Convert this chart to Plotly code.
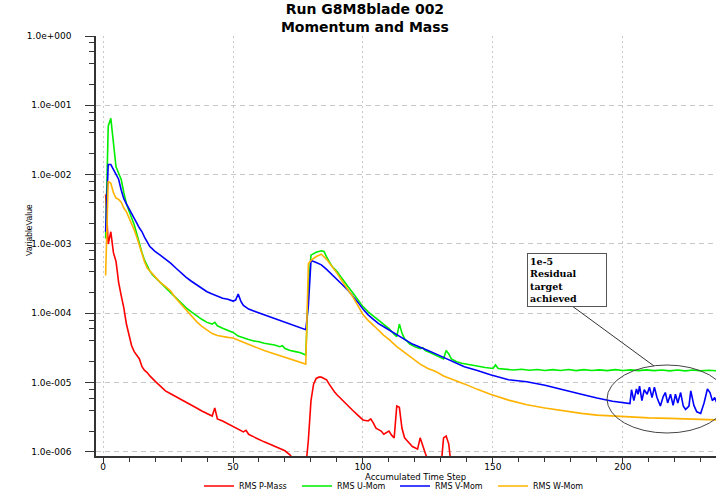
import plotly.graph_objects as go

# ---------------- data ----------------
p_steps = [1, 2, 3, 4, 5, 6, 7, 8, 9, 10, 11, 12, 13, 14, 15, 16, 17, 18, 20, 22, 24, 26, 28, 30,
           32, 34, 36, 38, 40, 42, 43, 44, 46, 48, 50, 52, 54, 55, 56, 58, 60, 62, 64, 66, 68, 70,
           72, 74, 76, 78, 79, 80, 81, 82, 83, 84, 85, 86, 87, 88, 89, 90, 92, 94, 96, 98, 100,
           102, 103, 104, 105, 106, 107, 108, 109, 110, 111, 112, 113, 114, 115, 116, 117, 118,
           119, 120, 121, 122, 123, 124, 126, 128, 130, 131, 132, 133, 134, 136]
p_mass = [5.2e-3, 1.0e-3, 1.5e-3, 7.5e-4, 5.6e-4, 2.8e-4, 1.8e-4, 1.2e-4, 7.0e-5, 4.8e-5, 3.4e-5,
          2.8e-5, 2.5e-5, 2.2e-5, 1.7e-5, 1.5e-5, 1.4e-5, 1.25e-5, 1.05e-5, 9.0e-6, 7.6e-6, 6.9e-6,
          6.3e-6, 5.8e-6, 5.3e-6, 4.8e-6, 4.3e-6, 3.9e-6, 3.6e-6, 3.3e-6, 4.3e-6, 3.0e-6, 2.8e-6,
          2.55e-6, 2.35e-6, 2.15e-6, 1.95e-6, 2.05e-6, 1.8e-6, 1.65e-6, 1.5e-6, 1.4e-6, 1.3e-6,
          1.2e-6, 1.12e-6, 1.04e-6, 9.0e-7, 7.0e-7, 6.0e-7, 6.0e-7, 1.5e-6, 5.5e-6, 9.5e-6,
          1.15e-5, 1.2e-5, 1.2e-5, 1.15e-5, 1.1e-5, 9.5e-6, 8.3e-6, 7.4e-6, 6.7e-6, 5.6e-6, 4.8e-6,
          4.0e-6, 3.4e-6, 2.9e-6, 2.8e-6, 3.0e-6, 2.6e-6, 2.2e-6, 2.1e-6, 2.0e-6, 1.8e-6, 1.9e-6,
          2.0e-6, 1.75e-6, 1.6e-6, 4.6e-6, 4.4e-6, 2.2e-6, 1.6e-6, 1.45e-6, 1.3e-6, 1.2e-6,
          1.15e-6, 1.1e-6, 1.6e-6, 1.2e-6, 9.5e-7, 6.0e-7, 5.0e-7, 6.0e-7, 1.6e-6, 1.7e-6, 1.3e-6,
          6.0e-7, 4.0e-7]

u_steps = [1, 2, 3, 4, 5, 6, 7, 8, 9, 10, 11, 12, 13, 14, 15, 16, 17, 18, 19, 20, 22, 24, 26, 28,
           30, 32, 34, 36, 38, 40, 42, 43, 44, 46, 48, 50, 52, 54, 56, 58, 60, 62, 64, 66, 68, 69,
           70, 72, 74, 76, 78, 79, 80, 82, 84, 85, 86, 88, 90, 92, 94, 96, 98, 100, 102, 104, 106,
           108, 110, 112, 113, 114, 115, 116, 118, 120, 122, 123, 124, 126, 128, 130, 131, 132,
           133, 134, 136, 138, 141, 144, 147, 150, 151, 152, 155, 158, 161, 164, 167, 170, 173,
           176, 179, 182, 185, 188, 191, 194, 197, 200, 203, 206, 209, 212, 215, 218, 221, 224,
           227, 230, 233, 236]
u_mom = [1.2e-3, 5.0e-2, 6.5e-2, 2.6e-2, 1.3e-2, 1.05e-2, 8.5e-3, 5.5e-3, 3.8e-3, 3.0e-3, 2.4e-3,
         1.9e-3, 1.4e-3, 1.0e-3, 7.5e-4, 5.8e-4, 4.8e-4, 4.1e-4, 3.6e-4, 3.3e-4, 2.8e-4, 2.4e-4,
         2.0e-4, 1.65e-4, 1.4e-4, 1.2e-4, 1.05e-4, 9.2e-5, 8.2e-5, 7.4e-5, 7.0e-5, 7.4e-5, 6.6e-5,
         6.1e-5, 5.7e-5, 5.3e-5, 4.7e-5, 4.5e-5, 4.2e-5, 4.0e-5, 3.9e-5, 3.7e-5, 3.6e-5, 3.5e-5,
         3.3e-5, 3.4e-5, 3.1e-5, 2.9e-5, 2.8e-5, 2.7e-5, 2.5e-5, 2.3e-4, 6.9e-4, 7.6e-4, 8.0e-4,
         7.8e-4, 6.5e-4, 4.8e-4, 4.0e-4, 3.1e-4, 2.5e-4, 2.0e-4, 1.55e-4, 1.25e-4, 1.05e-4,
         9.2e-5, 8.0e-5, 7.0e-5, 6.0e-5, 5.0e-5, 4.6e-5, 7.0e-5, 5.2e-5, 4.3e-5, 3.6e-5, 3.3e-5,
         3.1e-5, 3.2e-5, 2.9e-5, 2.7e-5, 2.5e-5, 2.3e-5, 2.2e-5, 2.9e-5, 2.6e-5, 2.2e-5, 2.0e-5,
         1.9e-5, 1.8e-5, 1.7e-5, 1.65e-5, 1.6e-5, 1.8e-5, 1.6e-5, 1.55e-5, 1.52e-5, 1.56e-5,
         1.51e-5, 1.55e-5, 1.5e-5, 1.54e-5, 1.5e-5, 1.55e-5, 1.49e-5, 1.54e-5, 1.5e-5, 1.53e-5,
         1.49e-5, 1.54e-5, 1.5e-5, 1.53e-5, 1.49e-5, 1.53e-5, 1.49e-5, 1.52e-5, 1.48e-5, 1.52e-5,
         1.48e-5, 1.52e-5, 1.48e-5, 1.51e-5, 1.48e-5]

v_steps = [1, 2, 3, 4, 5, 6, 7, 8, 9, 10, 11, 12, 13, 14, 15, 16, 17, 18, 19, 20, 22, 24, 26, 28,
           30, 32, 34, 36, 38, 40, 42, 44, 46, 48, 50, 51, 52, 53, 54, 56, 58, 60, 63, 66, 69, 72,
           75, 78, 79, 80, 82, 84, 86, 88, 90, 92, 94, 96, 98, 100, 102, 104, 106, 108, 110, 113,
           116, 119, 122, 125, 128, 131, 135, 139, 144, 149, 156, 163, 170, 177, 184, 190, 196,
           202.7, 203.3, 204.2, 205.2, 205.8, 206.4, 207.3, 208.2, 209.3, 210.2, 211.2, 212.1,
           213.1, 214.4, 215.5, 216.3, 217.2, 218.3, 219.3, 220.2, 221.1, 222.2, 223.2, 224.1,
           225.4, 226.1, 227.3, 228.4, 229.9, 231.2, 232.5, 233.5, 234.4, 235.3, 236]
v_mom = [1.5e-3, 1.4e-2, 1.4e-2, 1.2e-2, 1.0e-2, 8.6e-3, 6.0e-3, 4.5e-3, 3.8e-3, 3.2e-3, 2.7e-3,
         2.3e-3, 2.0e-3, 1.7e-3, 1.5e-3, 1.25e-3, 1.05e-3, 9.2e-4, 8.5e-4, 7.8e-4, 6.9e-4, 6.1e-4,
         5.3e-4, 4.5e-4, 3.8e-4, 3.3e-4, 2.9e-4, 2.6e-4, 2.3e-4, 2.05e-4, 1.9e-4, 1.75e-4,
         1.65e-4, 1.6e-4, 1.5e-4, 1.55e-4, 1.9e-4, 1.5e-4, 1.3e-4, 1.15e-4, 1.08e-4, 1.0e-4,
         9.3e-5, 8.5e-5, 7.7e-5, 6.9e-5, 6.3e-5, 5.8e-5, 1.3e-4, 5.8e-4, 5.4e-4, 5.0e-4, 4.3e-4,
         3.6e-4, 3.1e-4, 2.6e-4, 2.2e-4, 1.8e-4, 1.45e-4, 1.15e-4, 9.5e-5, 8.2e-5, 7.1e-5,
         6.4e-5, 5.8e-5, 5.0e-5, 4.2e-5, 3.6e-5, 3.2e-5, 2.9e-5, 2.6e-5, 2.3e-5, 2.0e-5, 1.7e-5,
         1.5e-5, 1.3e-5, 1.1e-5, 1.03e-5, 9.2e-6, 8.0e-6, 6.8e-6, 6.0e-6, 5.4e-6, 5.0e-6, 7.9e-6,
         5.5e-6, 8.1e-6, 6.8e-6, 8.9e-6, 5.5e-6, 7.9e-6, 6.8e-6, 8.6e-6, 6.1e-6, 8.6e-6, 6.1e-6,
         4.6e-6, 6.3e-6, 7.2e-6, 5.1e-6, 6.8e-6, 4.7e-6, 6.8e-6, 5.1e-6, 7.2e-6, 4.6e-6, 4.1e-6,
         4.6e-6, 7.6e-6, 4.7e-6, 3.8e-6, 3.6e-6, 5.1e-6, 8.1e-6, 7.2e-6, 5.5e-6, 6.1e-6, 5.2e-6]

w_steps = [1, 2, 3, 4, 5, 6, 7, 8, 9, 10, 11, 12, 13, 14, 15, 16, 17, 18, 19, 20, 22, 24, 26, 28,
           30, 32, 34, 36, 38, 40, 42, 44, 46, 48, 50, 52, 54, 56, 58, 60, 62, 64, 66, 68, 70, 72,
           74, 76, 78, 79, 80, 82, 84, 86, 88, 90, 92, 94, 96, 98, 100, 102, 104, 106, 108, 110,
           113, 116, 119, 122, 125, 128, 131, 135, 139, 144, 149, 156, 163, 170, 177, 184, 190,
           196, 202, 210, 218, 226, 236]
w_mom = [3.5e-4, 8.0e-3, 7.5e-3, 5.5e-3, 4.6e-3, 4.4e-3, 4.0e-3, 3.3e-3, 2.9e-3, 2.4e-3, 2.0e-3,
         1.6e-3, 1.25e-3, 9.5e-4, 7.0e-4, 5.5e-4, 4.5e-4, 4.1e-4, 3.6e-4, 3.3e-4, 2.8e-4, 2.45e-4,
         2.1e-4, 1.65e-4, 1.35e-4, 1.1e-4, 9.0e-5, 7.6e-5, 6.5e-5, 5.7e-5, 5.1e-5, 4.8e-5, 4.6e-5,
         4.5e-5, 4.4e-5, 4.1e-5, 3.8e-5, 3.5e-5, 3.3e-5, 3.1e-5, 2.9e-5, 2.75e-5, 2.6e-5, 2.45e-5,
         2.35e-5, 2.2e-5, 2.1e-5, 1.95e-5, 1.85e-5, 5.2e-4, 5.8e-4, 6.6e-4, 7.1e-4, 6.0e-4,
         4.8e-4, 3.8e-4, 2.9e-4, 2.3e-4, 1.75e-4, 1.3e-4, 9.6e-5, 7.9e-5, 6.6e-5, 5.7e-5, 4.8e-5,
         4.2e-5, 3.3e-5, 2.7e-5, 2.2e-5, 1.85e-5, 1.6e-5, 1.45e-5, 1.25e-5, 1.1e-5, 9.6e-6,
         8.0e-6, 6.8e-6, 5.6e-6, 4.8e-6, 4.3e-6, 3.9e-6, 3.6e-6, 3.4e-6, 3.3e-6, 3.2e-6, 3.1e-6,
         3.05e-6, 3.0e-6, 2.9e-6]

series_names = ["RMS P-Mass", "RMS U-Mom", "RMS V-Mom", "RMS W-Mom"]
y_tick_vals = [1e0, 1e-1, 1e-2, 1e-3, 1e-4, 1e-5, 1e-6]
y_tick_text = ["1.0e+000", "1.0e-001", "1.0e-002", "1.0e-003", "1.0e-004", "1.0e-005", "1.0e-006"]
x_tick_vals = [0, 50, 100, 150, 200]
title_lines = ["Run G8M8blade 002", "Momentum and Mass"]
note_lines = ["1e-5", "Residual", "target", "achieved"]

# ---------------- figure ----------------
colors = ["#ff0000", "#00ee00", "#0000ff", "#ffb300"]
fig = go.Figure()
for name, xs, ys, c in zip(series_names,
                           [p_steps, u_steps, v_steps, w_steps],
                           [p_mass, u_mom, v_mom, w_mom], colors):
    fig.add_trace(go.Scatter(x=xs, y=ys, mode="lines", name=name,
                             line=dict(color=c, width=1.6)))

y_minor = [m * 10.0 ** k for k in range(-6, 0) for m in (2, 4, 6, 8)]

L, R, T, B = 96, 0, 36, 35
W, H = 716, 491
pw, ph = W - L - R, H - T - B


def px(xp):
    return (xp - L) / pw


def py(yp):
    return (H - B - yp) / ph


axis_font = dict(family="DejaVu Sans", size=9, color="#000000")

fig.update_layout(
    width=W, height=H,
    margin=dict(l=L, r=R, t=T, b=B, autoexpand=False),
    paper_bgcolor="white", plot_bgcolor="white",
    title=dict(text="<b>" + "<br>".join(title_lines) + "</b>",
               font=dict(family="DejaVu Sans", size=14, color="#000000"),
               x=px(412), xanchor="center", y=0.972, yanchor="top", yref="container"),
    showlegend=True,
    legend=dict(orientation="h", x=px(199), xanchor="left", y=py(486), yanchor="middle",
                font=dict(family="DejaVu Sans", size=8, color="#000000"),
                entrywidth=53, entrywidthmode="pixels", itemwidth=30,
                bgcolor="rgba(0,0,0,0)", tracegroupgap=0),
    xaxis=dict(range=[-2.7, 235.8], tickmode="array", tickvals=x_tick_vals,
               ticks="outside", ticklen=5, tickcolor="#333333", tickwidth=1,
               showline=True, linecolor="#333333", linewidth=1.5,
               showgrid=True, gridcolor="#c8c8c8", griddash="2px,3px", gridwidth=1,
               zeroline=False, tickfont=axis_font, ticklabelstandoff=-4,
               minor=dict(dtick=10, tick0=0, ticks="outside", ticklen=4, tickcolor="#333333",
                          showgrid=False)),
    yaxis=dict(type="log", range=[-6.058, 0.0], tickmode="array", tickvals=y_tick_vals,
               ticktext=y_tick_text, ticks="outside", ticklen=9, tickcolor="#333333",
               tickwidth=1, showline=True, linecolor="#333333", linewidth=1.5,
               showgrid=True, gridcolor="#c8c8c8", griddash="5px,4px", gridwidth=1,
               zeroline=False, tickfont=axis_font, ticklabelstandoff=12,
               minor=dict(tickvals=y_minor, ticks="outside", ticklen=5, tickcolor="#333333",
                          showgrid=False)),
)

# axis titles placed like the reference
fig.add_annotation(text="VariableValue", textangle=-90, xref="paper", yref="paper",
                   x=px(22), y=py(230), showarrow=False,
                   font=dict(family="Liberation Sans Narrow, Liberation Sans", size=8.5,
                             color="#000000"))
fig.add_annotation(text="Accumulated Time Step", xref="paper", yref="paper",
                   x=px(415), y=py(476.5), yanchor="middle", showarrow=False,
                   font=dict(family="DejaVu Sans", size=8.5, color="#000000"))

# annotation box, leader line and ellipse
fig.add_annotation(text="<b>" + "<br>".join(note_lines) + "</b>", xref="paper", yref="paper",
                   x=px(527), y=py(253), xanchor="left", yanchor="top", align="left",
                   width=74, showarrow=False, bordercolor="#555555", borderwidth=1,
                   borderpad=2, bgcolor="white",
                   font=dict(family="DejaVu Serif", size=9.5, color="#000000"))
fig.add_shape(type="line", xref="paper", yref="paper",
              x0=px(568), y0=py(303), x1=px(654), y1=py(366),
              line=dict(color="#333333", width=1))
fig.add_shape(type="circle", xref="paper", yref="paper",
              x0=px(607), x1=px(727), y0=py(433), y1=py(365),
              line=dict(color="#444444", width=1))

fig.write_html("out.html", config={"displayModeBar": False},
               post_script="document.body.style.margin='0px';")
